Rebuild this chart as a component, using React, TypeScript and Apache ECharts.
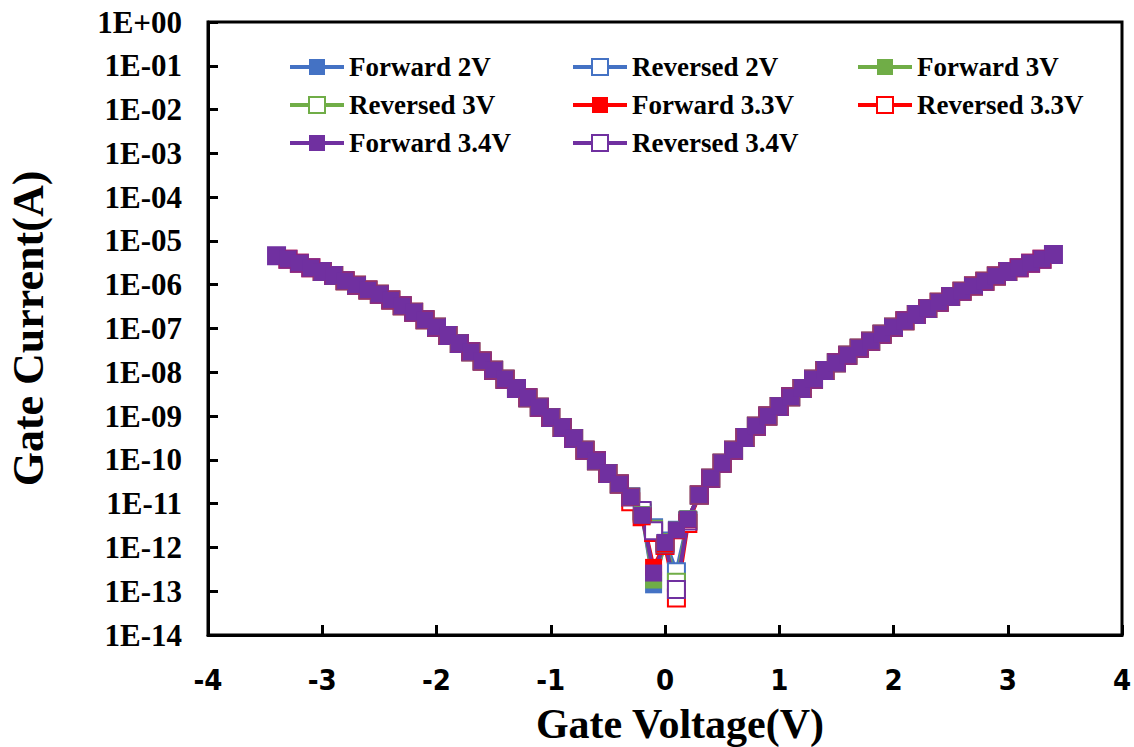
import React, { useEffect, useRef } from "react";
import * as echarts from "echarts";

// Gate voltage points (V)
const voltages = [
  -3.4, -3.3, -3.2, -3.1, -3.0, -2.9, -2.8, -2.7, -2.6, -2.5, -2.4, -2.3, -2.2, -2.1, -2.0,
  -1.9, -1.8, -1.7, -1.6, -1.5, -1.4, -1.3, -1.2, -1.1, -1.0, -0.9, -0.8, -0.7, -0.6, -0.5,
  -0.4, -0.3, -0.2, -0.1, 0.0, 0.1, 0.2, 0.3, 0.4, 0.5, 0.6, 0.7, 0.8, 0.9, 1.0,
  1.1, 1.2, 1.3, 1.4, 1.5, 1.6, 1.7, 1.8, 1.9, 2.0, 2.1, 2.2, 2.3, 2.4, 2.5,
  2.6, 2.7, 2.8, 2.9, 3.0, 3.1, 3.2, 3.3, 3.4,
];

// Common gate current (A), one per voltage
const baseCurrent = [
  4.57e-6, 3.8e-6, 3.09e-6, 2.45e-6, 2.0e-6, 1.62e-6, 1.23e-6, 9.77e-7, 7.59e-7, 6.03e-7,
  4.47e-7, 3.31e-7, 2.34e-7, 1.58e-7, 1.07e-7, 6.92e-8, 4.57e-8, 2.95e-8, 1.82e-8, 1.12e-8,
  6.92e-9, 4.27e-9, 2.63e-9, 1.58e-9, 9.33e-10, 5.5e-10, 3.09e-10, 1.66e-10, 9.55e-11, 4.9e-11,
  2.82e-11, 1.41e-11, 5.62e-12, 2.51e-12, 1.26e-12, 2.51e-12, 4.47e-12, 1.58e-11, 3.8e-11, 8.32e-11,
  1.66e-10, 3.24e-10, 5.89e-10, 1.0e-9, 1.66e-9, 2.75e-9, 4.27e-9, 6.92e-9, 1.1e-8, 1.66e-8,
  2.45e-8, 3.55e-8, 5.13e-8, 7.41e-8, 1.07e-7, 1.51e-7, 2.09e-7, 2.88e-7, 3.98e-7, 5.37e-7,
  7.08e-7, 9.33e-7, 1.2e-6, 1.58e-6, 2.0e-6, 2.45e-6, 3.09e-6, 3.8e-6, 4.9e-6,
];

// Each sweep's own values around 0 V
const nearZeroVoltages = [-0.3, -0.2, -0.1, 0.0, 0.1, 0.2];
const forward2V = [1.41e-11, 5.6e-12, 1.4e-13, 1.3e-12, 2.6e-12, 4.5e-12];
const reversed2V = [1.41e-11, 6.0e-12, 2.8e-12, 1.4e-12, 2.8e-13, 4.0e-12];
const forward3V = [1.41e-11, 5.6e-12, 1.8e-13, 1.2e-12, 2.5e-12, 4.5e-12];
const reversed3V = [1.41e-11, 6.5e-12, 2.6e-12, 1.3e-12, 1.6e-13, 4.2e-12];
const forward33V = [1.41e-11, 5.0e-12, 3.5e-13, 1.2e-12, 2.4e-12, 4.3e-12];
const reversed33V = [1.1e-11, 5.0e-12, 2.2e-12, 1.1e-12, 7.0e-14, 3.5e-12];
const forward34V = [1.41e-11, 5.4e-12, 2.6e-13, 1.3e-12, 2.5e-12, 4.4e-12];
const reversed34V = [1.41e-11, 7.0e-12, 2.4e-12, 1.2e-12, 1.1e-13, 4.0e-12];

const seriesNames = [
  "Forward 2V", "Reversed 2V", "Forward 3V", "Reversed 3V",
  "Forward 3.3V", "Reversed 3.3V", "Forward 3.4V", "Reversed 3.4V",
];
const sweepLimits = [2, 2, 3, 3, 3.3, 3.3, 3.4, 3.4];
const nearZeroSets = [forward2V, reversed2V, forward3V, reversed3V, forward33V, reversed33V, forward34V, reversed34V];

const seriesColors = ["#4472C4", "#4472C4", "#70AD47", "#70AD47", "#FF0000", "#FF0000", "#7030A0", "#7030A0"];

function buildData(idx: number): [number, number][] {
  const lim = sweepLimits[idx];
  const near = nearZeroSets[idx];
  const pts: [number, number][] = [];
  voltages.forEach((v, i) => {
    if (Math.abs(v) > lim + 1e-9) return;
    let c = baseCurrent[i];
    const k = nearZeroVoltages.findIndex((nv) => Math.abs(nv - v) < 1e-9);
    if (k >= 0) c = near[k];
    pts.push([v, c]);
  });
  if (seriesNames[idx].startsWith("Reversed")) pts.reverse();
  return pts;
}

const legendColumns = [
  ["Forward 2V", "Reversed 3V", "Forward 3.4V"],
  ["Reversed 2V", "Forward 3.3V", "Reversed 3.4V"],
  ["Forward 3V", "Reversed 3.3V"],
];

export default function App() {
  const ref = useRef<HTMLDivElement>(null);
  useEffect(() => {
    if (!ref.current) return;
    const chart = echarts.init(ref.current, null, { renderer: "svg" });
    const serif = "'Liberation Serif', 'Times New Roman', serif";
    const narrow = "'Liberation Sans Narrow', 'DejaVu Sans Condensed', 'Arial Narrow', sans-serif";
    const drawOrder = [1, 3, 5, 7, 0, 2, 4, 6];
    const series = drawOrder.map((idx) => {
      const isOpen = seriesNames[idx].startsWith("Reversed");
      return {
        name: seriesNames[idx],
        type: "line",
        data: buildData(idx),
        symbol: isOpen ? "emptyRect" : "rect",
        symbolSize: 17,
        showAllSymbol: true,
        color: seriesColors[idx],
        lineStyle: { width: 4, color: seriesColors[idx] },
        itemStyle: { color: seriesColors[idx], borderColor: seriesColors[idx], borderWidth: isOpen ? 2 : 0 },
        silent: true,
        emphasis: { disabled: true },
      };
    });
    const colLefts = [283, 566, 851];
    const legends = legendColumns.map((col, ci) => ({
      orient: "vertical",
      left: colLefts[ci],
      top: 48,
      data: col,
      itemWidth: 54,
      itemHeight: 20,
      itemGap: 10,
      selectedMode: false,
      lineStyle: { width: 4 },
      textStyle: { fontFamily: serif, fontWeight: "bold", fontSize: 27, lineHeight: 28, color: "#000" },
    }));
    chart.setOption({
      animation: false,
      backgroundColor: "#fff",
      legend: legends,
      grid: {
        left: 208,
        right: 12,
        top: 22,
        bottom: 112,
        show: true,
        borderColor: "#000",
        borderWidth: 3,
        containLabel: false,
        outerBoundsMode: "none",
      },
      xAxis: {
        type: "value",
        min: -4,
        max: 4,
        interval: 1,
        name: "Gate Voltage(V)",
        nameLocation: "middle",
        nameGap: 68,
        nameTextStyle: { fontFamily: serif, fontWeight: "bold", fontSize: 42, color: "#000", padding: [0, 0, 0, 30] },
        axisLine: { show: true, onZero: false, lineStyle: { color: "#000", width: 3 } },
        axisTick: { show: true, inside: true, length: 10, lineStyle: { color: "#000", width: 3 } },
        axisLabel: { fontFamily: narrow, fontWeight: "bold", fontSize: 29, color: "#000", margin: 30 },
        splitLine: { show: false },
      },
      yAxis: {
        type: "log",
        logBase: 10,
        min: 1e-14,
        max: 1,
        interval: 1,
        name: "Gate Current(A)",
        nameLocation: "middle",
        nameGap: 158,
        nameTextStyle: { fontFamily: serif, fontWeight: "bold", fontSize: 44, color: "#000" },
        axisLine: { show: true, onZero: false, lineStyle: { color: "#000", width: 3 } },
        axisTick: { show: true, inside: true, length: 10, lineStyle: { color: "#000", width: 3 } },
        axisLabel: {
          fontFamily: serif,
          fontWeight: "bold",
          fontSize: 31,
          color: "#000",
          margin: 26,
          formatter: (v: number) => {
            const e = Math.round(Math.log10(v));
            const sign = e < 0 ? "-" : "+";
            const a = Math.abs(e);
            return "1E" + sign + (a < 10 ? "0" + a : String(a));
          },
        },
        splitLine: { show: false },
        minorTick: { show: false },
      },
      series,
    });
    return () => chart.dispose();
  }, []);
  return (
    <div
      ref={ref}
      style={{ position: "fixed", left: 0, top: 0, width: 1134, height: 747, background: "#fff" }}
    />
  );
}
